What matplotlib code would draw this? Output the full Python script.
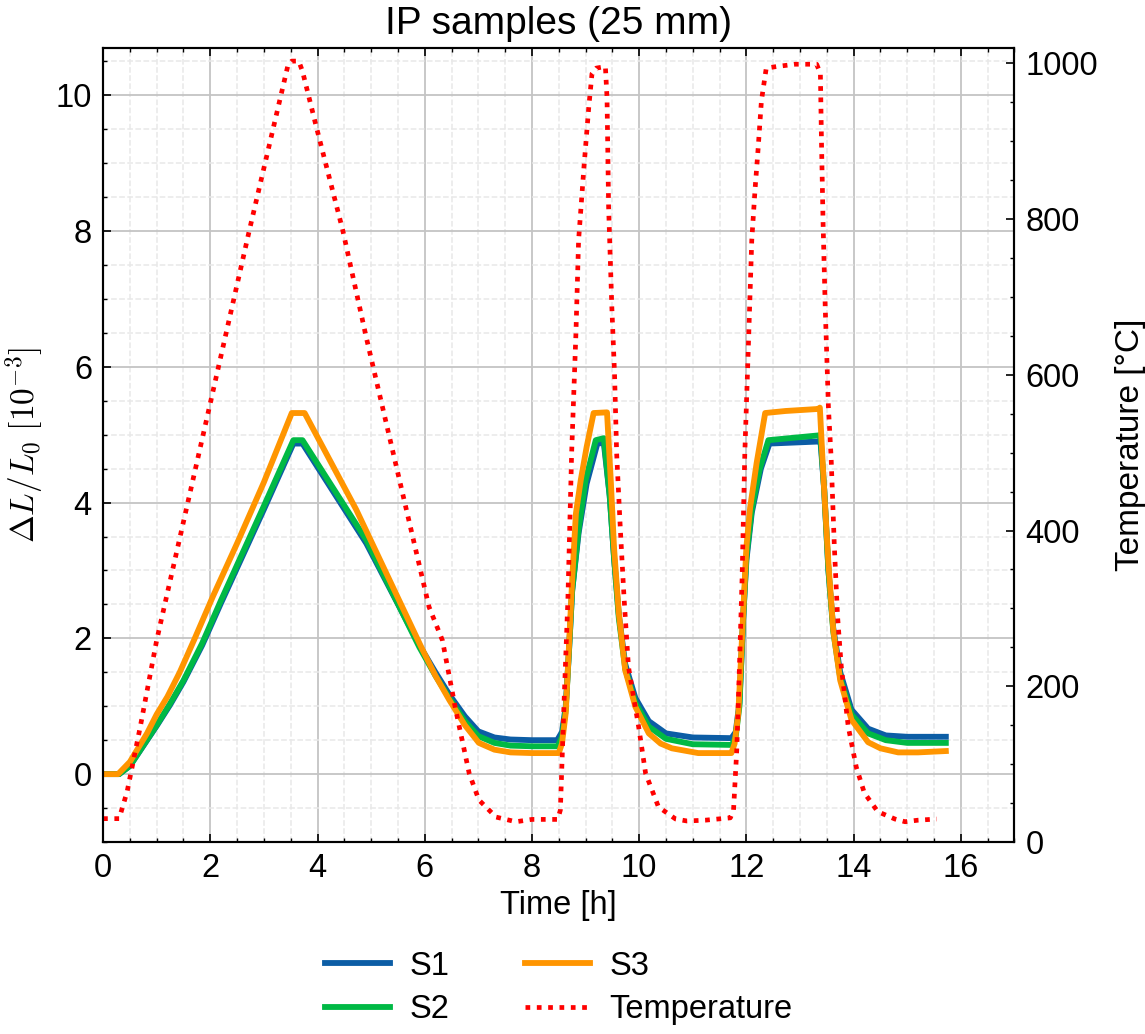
import matplotlib
matplotlib.use("Agg")
import matplotlib.pyplot as plt
from matplotlib.ticker import MultipleLocator

# Data (time in hours, strain in 1e-3, temperature in degC)
t_s1 = [0, 0.3, 0.5, 1.0, 1.25, 1.5, 1.85, 2.2, 3.0, 3.55, 3.72, 4.91, 5.9, 6.2, 6.46, 6.75, 7.0, 7.3, 7.6, 8.0,
        8.47, 8.56, 8.63, 8.69, 8.75, 8.87, 9.02, 9.22, 9.34, 9.45, 9.53, 9.62, 9.74, 9.93, 10.18,
        10.5, 11.0, 11.72, 11.8, 11.87, 11.94, 12.0, 12.1, 12.27, 12.43, 13.34, 13.38, 13.45, 13.53,
        13.62, 13.75, 13.96, 14.27, 14.6, 15.0, 15.72]
s1 = [0, 0, 0.12, 0.71, 1.02, 1.36, 1.9, 2.52, 3.9, 4.87, 4.87, 3.4, 1.9, 1.5, 1.17, 0.85, 0.63, 0.54, 0.51, 0.5,
      0.5, 0.62, 1.0, 1.8, 2.7, 3.55, 4.28, 4.87, 4.88, 4.1, 3.2, 2.35, 1.62, 1.12, 0.78,
      0.6, 0.54, 0.53, 0.62, 1.05, 2.3, 3.15, 3.85, 4.5, 4.87, 4.9, 4.92, 4.2, 3.0,
      2.15, 1.5, 0.95, 0.67, 0.57, 0.55, 0.55]

t_s2 = [0, 0.3, 0.5, 1.0, 1.25, 1.5, 1.85, 2.2, 3.0, 3.55, 3.72, 4.91, 5.9, 6.2, 6.46, 6.75, 7.0, 7.3, 7.6, 8.0,
        8.48, 8.56, 8.63, 8.69, 8.75, 8.87, 9.0, 9.19, 9.34, 9.45, 9.53, 9.62, 9.74, 9.93, 10.18,
        10.5, 11.0, 11.73, 11.8, 11.87, 11.94, 12.0, 12.1, 12.25, 12.41, 13.34, 13.38, 13.45, 13.53,
        13.62, 13.75, 13.96, 14.27, 14.6, 15.0, 15.72]
s2 = [0, 0, 0.12, 0.72, 1.04, 1.38, 1.93, 2.56, 3.95, 4.92, 4.92, 3.45, 1.87, 1.45, 1.12, 0.78, 0.56, 0.46, 0.42, 0.41,
      0.41, 0.55, 0.95, 1.8, 2.7, 3.6, 4.33, 4.92, 4.95, 4.1, 3.2, 2.3, 1.55, 1.05, 0.7,
      0.52, 0.44, 0.43, 0.55, 1.0, 2.3, 3.2, 3.9, 4.5, 4.92, 4.99, 5.0, 4.2, 3.0,
      2.1, 1.42, 0.88, 0.6, 0.5, 0.46, 0.46]

t_s3 = [0, 0.28, 0.5, 0.82, 1.0, 1.2, 1.43, 1.7, 2.05, 2.5, 3.0, 3.52, 3.76, 4.72, 5.96, 6.2, 6.46, 6.75, 7.01,
        7.3, 7.6, 8.0, 8.5, 8.56, 8.63, 8.69, 8.75, 8.82, 8.91, 9.02, 9.15, 9.4, 9.47, 9.53, 9.62,
        9.74, 9.93, 10.18, 10.4, 10.61, 11.1, 11.72, 11.78, 11.85, 11.94, 12.0, 12.07, 12.19, 12.35,
        12.73, 13.34, 13.37, 13.44, 13.53, 13.62, 13.75, 13.96, 14.27, 14.5, 14.83, 15.2, 15.72]
s3 = [0, 0, 0.18, 0.6, 0.88, 1.14, 1.5, 1.98, 2.62, 3.4, 4.3, 5.32, 5.32, 3.9, 1.83, 1.45, 1.09, 0.72, 0.46,
      0.36, 0.32, 0.31, 0.31, 0.45, 0.9, 1.87, 2.86, 3.84, 4.33, 4.82, 5.32, 5.33, 4.33, 3.35, 2.37,
      1.53, 0.99, 0.6, 0.45, 0.38, 0.31, 0.31, 0.45, 0.9, 2.37, 3.35, 3.93, 4.58, 5.32,
      5.35, 5.38, 5.4, 4.33, 3.1, 2.12, 1.38, 0.8, 0.47, 0.38, 0.32, 0.32, 0.34]

t_temp = [0, 0.3, 0.45, 0.7, 1.0, 2.73, 3.45, 3.52, 3.65, 3.72, 3.98, 4.47, 4.91, 6.08, 6.33, 6.58,
          6.83, 7.01, 7.33, 7.7, 8.0, 8.48, 8.53, 8.6, 8.67, 8.74, 8.82, 8.87, 8.97, 9.06, 9.12, 9.2,
          9.37, 9.4, 9.43, 9.49, 9.54, 9.58, 9.65, 9.72, 9.8, 9.99, 10.12, 10.36, 10.68, 10.89, 11.23,
          11.7, 11.76, 11.82, 11.87, 11.92, 11.97, 12.04, 12.1, 12.16, 12.22, 12.28, 12.37, 12.56,
          12.91, 13.31, 13.38, 13.4, 13.43, 13.47, 13.53, 13.58, 13.64, 13.7, 13.77, 13.9, 14.05,
          14.2, 14.45, 14.77, 14.96, 15.2, 15.55]
temp = [30, 30, 65, 150, 259, 786, 998, 1003, 1003, 990, 918, 786, 648, 302, 259, 169,
        88, 54, 32, 26, 29, 29, 41, 182, 311, 499, 653, 773, 867, 944, 987, 994,
        996, 956, 815, 687, 602, 499, 400, 311, 225, 148, 88, 45, 29.5, 27, 28,
        31, 41, 118, 225, 340, 499, 644, 773, 837, 892, 952, 994, 996,
        999, 999, 987, 901, 795, 687, 558, 494, 380, 290, 225, 148, 96,
        63, 39, 29.5, 26, 28, 29.5]

plt.rcParams['font.family'] = ['Liberation Sans', 'DejaVu Sans']
plt.rcParams['mathtext.fontset'] = 'cm'
plt.rcParams['font.size'] = 23.5
plt.rcParams['axes.linewidth'] = 1.5
for ax_ in ('xtick', 'ytick'):
    plt.rcParams[ax_ + '.direction'] = 'in'
    plt.rcParams[ax_ + '.major.size'] = 5.5
    plt.rcParams[ax_ + '.minor.size'] = 3
    plt.rcParams[ax_ + '.major.width'] = 1.2
    plt.rcParams[ax_ + '.minor.width'] = 1.0
    plt.rcParams[ax_ + '.major.pad'] = 8

fig = plt.figure(figsize=(11.45, 10.34), dpi=100)
ax = fig.add_axes([0.090, 0.1857, 0.796, 0.768])
ax2 = ax.twinx()

lw = 4.2
l1, = ax.plot(t_s1, s1, color='#0C5DA5', lw=lw, label='S1')
l2, = ax.plot(t_s2, s2, color='#00B945', lw=lw, label='S2')
l3, = ax.plot(t_s3, s3, color='#FF9500', lw=lw, label='S3')
l4, = ax2.plot(t_temp, temp, color='red', lw=3.4, ls=(0, (1, 1.4)), label='Temperature')

ax.set_xlim(0, 17)
ax.set_ylim(-1, 10.7)
ax2.set_ylim(0, 1020)

ax.xaxis.set_major_locator(MultipleLocator(2))
ax.xaxis.set_minor_locator(MultipleLocator(0.5))
ax.yaxis.set_major_locator(MultipleLocator(2))
ax.yaxis.set_minor_locator(MultipleLocator(0.5))
ax2.yaxis.set_major_locator(MultipleLocator(200))
ax2.yaxis.set_minor_locator(MultipleLocator(50))

ax.tick_params(which='both', top=True, right=False)
ax2.tick_params(which='both', right=True)

ax.grid(which='major', color='#c4c4c4', lw=1.3, ls='-')
ax.grid(which='minor', color='#e8e8e8', lw=1.1, ls='--')
ax.set_axisbelow(True)

ax.set_xlabel('Time [h]', labelpad=4)
ax.set_ylabel(r'$\Delta L/L_0$ $[10^{-3}]$', fontsize=24)
ax.yaxis.set_label_coords(-0.063, 0.5)
ax2.set_ylabel('Temperature [°C]', fontsize=24, labelpad=12)
ax.set_title('IP samples (25 mm)', fontsize=28, pad=10)

ax.legend([l1, l2, l3, l4], ['S1', 'S2', 'S3', 'Temperature'], ncol=2, frameon=False,
          loc='upper center', bbox_to_anchor=(0.5, -0.1), handlelength=2.0,
          columnspacing=2.3, labelspacing=0.38, handletextpad=0.6)

fig.savefig('out.png', dpi=100)
